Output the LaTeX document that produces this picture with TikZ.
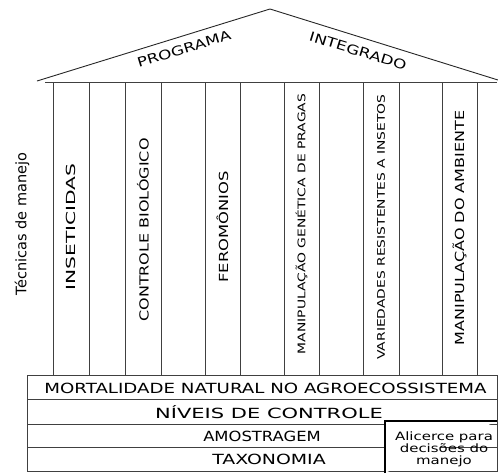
\documentclass[tikz,border=0pt]{standalone}
\usepackage{fontspec}
\newfontfamily\cfn{DejaVu Sans}
\newcommand{\hsc}[2]{\scalebox{#1}[1]{#2}}
\begin{document}
\begin{tikzpicture}[x=1pt,y=-1pt,
  lin/.style={draw=black!75,line width=0.7pt},
  roof/.style={draw=black!85,line width=0.9pt},
  coltext/.style={font=\cfn\fontsize{12.5}{12}\selectfont,rotate=90,inner sep=0pt},
  coltextsm/.style={font=\cfn\fontsize{10.5}{10}\selectfont,rotate=90,inner sep=0pt},
  rowtext/.style={font=\cfn\fontsize{14}{14}\selectfont,inner sep=0pt},
  rooftext/.style={font=\cfn\fontsize{13}{13}\selectfont,inner sep=0pt}]
\useasboundingbox (0,0) rectangle (498,475);
% roof
\coordinate (rl) at (37,81);
\coordinate (apex) at (270,9);
\coordinate (rr) at (498,80);
\draw[roof] (rl) -- (apex) -- (rr);
\draw[lin] (45,82) -- (497,82);
\node[rooftext,rotate=17] (prog) at (184,49) {\hsc{1.3}{PROGRAMA}};
\node[rooftext,rotate=-17] (integ) at (358,51) {\hsc{1.3}{INTEGRADO}};
% columns
\foreach \x in {53,89,125,161,205,240,284,319,363,399,442,477}
  \draw[lin] (\x,82) -- (\x,375);
\node[coltext] (c1) at (71,227) {\hsc{1.62}{INSETICIDAS}};
\node[coltext] (c2) at (143,230) {\hsc{1.28}{CONTROLE BIOLÓGICO}};
\node[coltext] (c3) at (222.5,227) {\hsc{1.31}{FEROMÔNIOS}};
\node[coltextsm] (c4) at (301.5,224) {\hsc{1.32}{MANIPULAÇÃO GENÉTICA DE PRAGAS}};
\node[coltextsm] (c5) at (381,227) {\hsc{1.32}{VARIEDADES RESISTENTES A INSETOS}};
\node[coltext] (c6) at (459.5,228) {\hsc{1.28}{MANIPULAÇÃO DO AMBIENTE}};
\node[font=\cfn\fontsize{14.5}{14}\selectfont,rotate=90,inner sep=0pt] (tec) at (22,224) {Técnicas de manejo};
% base
\draw[lin] (27,375) rectangle (497,471);
\foreach \y in {399,424,447} \draw[lin] (27,\y) -- (497,\y);
\node[rowtext] (r1) at (265.5,388) {\hsc{1.3}{MORTALIDADE NATURAL NO AGROECOSSISTEMA}};
\node[rowtext] (r2) at (269,412) {\hsc{1.5}{NÍVEIS DE CONTROLE}};
\node[rowtext] (r3) at (262,436) {\hsc{1.17}{AMOSTRAGEM}};
\node[rowtext] (r4) at (269,459) {\hsc{1.35}{TAXONOMIA}};
% alicerce box
\draw[fill=white,draw=black,line width=1.3pt] (385,473) -- (385,421) -- (497,421);
\node[font=\cfn\fontsize{11.5}{14.5}\selectfont,inner sep=0pt] (ali) at (444,450) {\hsc{1.3}{\begin{tabular}{@{}c@{}}Alicerce para\\[-2.5pt]decisões do\\[-2.5pt]manejo\end{tabular}}};
\end{tikzpicture}
\end{document}
